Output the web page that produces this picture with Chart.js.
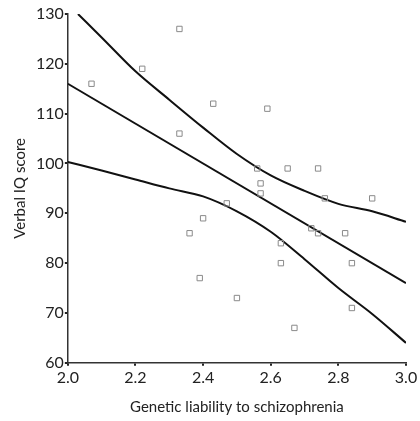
<!DOCTYPE html>
<html>
<head>
<meta charset="utf-8">
<script src="https://cdn.jsdelivr.net/npm/chart.js@4.4.1/dist/chart.umd.min.js"></script>
<style>
  html, body { margin: 0; padding: 0; background: #fff; }
  #wrap { width: 420px; height: 421px; }
</style>
</head>
<body>
<div id="wrap"><canvas id="chart"></canvas></div>
<script>
// ---------- data ----------
const liability = [2.07, 2.22, 2.33, 2.43, 2.33, 2.59, 2.56, 2.65, 2.74, 2.57, 2.57, 2.76, 2.90,
  2.47, 2.40, 2.36, 2.72, 2.74, 2.82, 2.63, 2.63, 2.84, 2.39, 2.50, 2.84, 2.67];
const verbalIQ = [116, 119, 127, 112, 106, 111, 99, 99, 99, 96, 94, 93, 93,
  92, 89, 86, 87, 86, 86, 84, 80, 80, 77, 73, 71, 67];

// fitted line and the two bands
const fitX = [2.0, 3.0];
const fitY = [116, 76];
const upperX = [2.03, 2.1, 2.2, 2.3, 2.4, 2.5, 2.6, 2.7, 2.8, 2.9, 3.0];
const upperY = [130, 125.3, 118.5, 112.8, 107.2, 101.9, 97.6, 94.5, 91.9, 90.4, 88.3];
const lowerX = [2.0, 2.1, 2.2, 2.3, 2.4, 2.5, 2.6, 2.7, 2.8, 2.9, 3.0];
const lowerY = [100.3, 98.6, 96.8, 95.0, 93.4, 90.4, 86.3, 80.8, 75.0, 69.8, 64.0];

const xTicks = [2.0, 2.2, 2.4, 2.6, 2.8, 3.0];
const yTicks = [60, 70, 80, 90, 100, 110, 120, 130];

const pts = (xs, ys) => xs.map((x, i) => ({ x: x, y: ys[i] }));

const FONT = "Lato, 'Open Sans', sans-serif";

const lineStyle = {
  type: "line",
  borderColor: "#111",
  borderWidth: 2,
  pointRadius: 0,
  fill: false,
  cubicInterpolationMode: "monotone"
};

new Chart(document.getElementById("chart"), {
  data: {
    datasets: [
      {
        type: "scatter",
        label: "subjects",
        data: pts(liability, verbalIQ),
        pointStyle: "rect",
        pointRadius: 3.8,
        borderColor: "#8a8a8a",
        borderWidth: 1,
        backgroundColor: "rgba(0,0,0,0)"
      },
      Object.assign({ label: "fit", data: pts(fitX, fitY) }, lineStyle),
      Object.assign({ label: "upper", data: pts(upperX, upperY) }, lineStyle),
      Object.assign({ label: "lower", data: pts(lowerX, lowerY) }, lineStyle)
    ]
  },
  options: {
    responsive: true,
    maintainAspectRatio: false,
    animation: false,
    layout: { padding: { top: 14, right: 14, left: 11, bottom: 5 } },
    plugins: { legend: { display: false }, tooltip: { enabled: false } },
    scales: {
      x: {
        type: "linear",
        min: 2.0,
        max: 3.0,
        afterBuildTicks: (axis) => { axis.ticks = xTicks.map(v => ({ value: v })); },
        ticks: { color: "#222", font: { family: FONT, size: 16 }, padding: 2,
          callback: (v) => Number(v).toFixed(1) },
        grid: { drawOnChartArea: false, color: "#222", lineWidth: 2, tickLength: 3 },
        border: { color: "#333", width: 1.5 },
        title: { display: true, text: "Genetic liability to schizophrenia", color: "#222",
          font: { family: FONT, size: 15 }, padding: { top: 9, bottom: 0 } }
      },
      y: {
        type: "linear",
        min: 60,
        max: 130,
        afterBuildTicks: (axis) => { axis.ticks = yTicks.map(v => ({ value: v })); },
        ticks: { color: "#222", font: { family: FONT, size: 16 }, padding: 1 },
        grid: { drawOnChartArea: false, color: "#222", lineWidth: 2, tickLength: 3 },
        border: { color: "#333", width: 1.5 },
        title: { display: true, text: "Verbal IQ score", color: "#222",
          font: { family: FONT, size: 15 }, padding: { top: 0, bottom: 6 } }
      }
    }
  }
});
</script>
</body>
</html>
